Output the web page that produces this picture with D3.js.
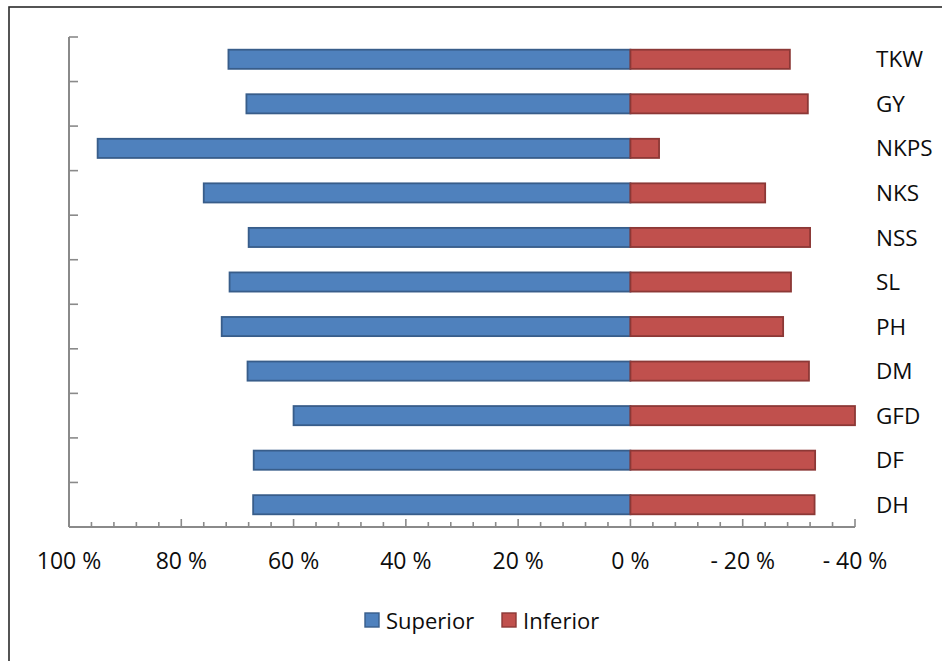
<!doctype html>
<meta charset="utf-8">
<style>
body { margin: 0; background: #fff; }
text { font-family: "Open Sans", "Noto Sans", sans-serif; fill: #0d0d0d; }
</style>
<script src="https://d3js.org/d3.v7.min.js"></script>
<body>
<svg id="chart"></svg>
<script>
// categories from top to bottom
var categories = ["TKW", "GY", "NKPS", "NKS", "NSS", "SL", "PH", "DM", "GFD", "DF", "DH"];
var superior = [71.6, 68.4, 94.9, 76.0, 68.0, 71.4, 72.8, 68.2, 60.0, 67.1, 67.2];
var inferior = [28.4, 31.6, 5.1, 24.0, 32.0, 28.6, 27.2, 31.8, 40.0, 32.9, 32.8];
var xTicks = [100, 80, 60, 40, 20, 0, -20, -40];
var seriesNames = ["Superior", "Inferior"];

var width = 942, height = 661;
var svg = d3.select("#chart").attr("width", width).attr("height", height);

// outer frame
svg.append("rect")
  .attr("x", 9).attr("y", 7)
  .attr("width", 960).attr("height", 700)
  .attr("fill", "none")
  .attr("stroke", "#2b2b2b")
  .attr("stroke-width", 1.6);

var x = d3.scaleLinear().domain([100, -40]).range([69, 855]);
var y = d3.scaleBand().domain(categories).range([37, 527])
  .paddingInner(0.57).paddingOuter(0.285);

var colors = { fill: ["#4F81BD", "#C0504D"], stroke: ["#385D8A", "#8C3836"] };
var axisColor = "#8a8a8a";

// bars: superior goes to the left of 0, inferior to the right
var rows = categories.map(function(c, i){ return { cat: c, sup: superior[i], inf: inferior[i] }; });

var g = svg.append("g");
g.selectAll(".sup").data(rows).enter().append("rect")
  .attr("class", "sup")
  .attr("x", function(d){ return x(d.sup); })
  .attr("y", function(d){ return y(d.cat); })
  .attr("width", function(d){ return x(0) - x(d.sup); })
  .attr("height", y.bandwidth())
  .attr("fill", colors.fill[0])
  .attr("stroke", colors.stroke[0])
  .attr("stroke-width", 1.8);

g.selectAll(".inf").data(rows).enter().append("rect")
  .attr("class", "inf")
  .attr("x", x(0))
  .attr("y", function(d){ return y(d.cat); })
  .attr("width", function(d){ return x(-d.inf) - x(0); })
  .attr("height", y.bandwidth())
  .attr("fill", colors.fill[1])
  .attr("stroke", colors.stroke[1])
  .attr("stroke-width", 1.8);

// category labels on the right
svg.selectAll(".cat").data(categories).enter().append("text")
  .attr("x", 876)
  .attr("y", function(d){ return y(d) + y.bandwidth() / 2; })
  .attr("dy", "0.36em")
  .style("font-size", "22.5px")
  .text(function(d){ return d; });

// x axis: minor ticks every 4 %, major every 20 %
var axisY = 527;
var minor = d3.range(100, -41, -4);
var ax = svg.append("g").attr("transform", "translate(0," + axisY + ")");
ax.append("line").attr("x1", 69).attr("x2", 855)
  .attr("stroke", axisColor).attr("stroke-width", 2);
ax.selectAll(".mt").data(minor).enter().append("line")
  .attr("x1", function(d){ return x(d); }).attr("x2", function(d){ return x(d); })
  .attr("y1", 0)
  .attr("y2", function(d){ return d % 20 === 0 ? -8 : -5; })
  .attr("stroke", axisColor).attr("stroke-width", 1.6);
ax.selectAll(".tl").data(xTicks).enter().append("text")
  .attr("x", function(d){ return x(d); })
  .attr("y", 42)
  .attr("text-anchor", "middle")
  .style("font-size", "23px")
  .text(function(d){ return (d < 0 ? "- " + (-d) : d) + " %"; });

// y axis with ticks at band edges
var edges = d3.range(categories.length + 1).map(function(i){ return 37 + i * y.step(); });
var ay = svg.append("g");
ay.append("line").attr("x1", 69).attr("x2", 69).attr("y1", 37).attr("y2", axisY)
  .attr("stroke", axisColor).attr("stroke-width", 2);
ay.selectAll(".yt").data(edges.slice(0, -1)).enter().append("line")
  .attr("x1", 69).attr("x2", 78)
  .attr("y1", function(d){ return d; }).attr("y2", function(d){ return d; })
  .attr("stroke", axisColor).attr("stroke-width", 1.6);

// legend
var legendX = [365, 502];
var lg = svg.selectAll(".lg").data(seriesNames).enter().append("g")
  .attr("transform", function(d, i){ return "translate(" + legendX[i] + ",613)"; });
lg.append("rect").attr("width", 14).attr("height", 14)
  .attr("fill", function(d, i){ return colors.fill[i]; })
  .attr("stroke", function(d, i){ return colors.stroke[i]; })
  .attr("stroke-width", 1.4);
lg.append("text").attr("x", 21).attr("y", 16)
  .style("font-size", "22px")
  .text(function(d){ return d; });
</script>
</body>
</html>
